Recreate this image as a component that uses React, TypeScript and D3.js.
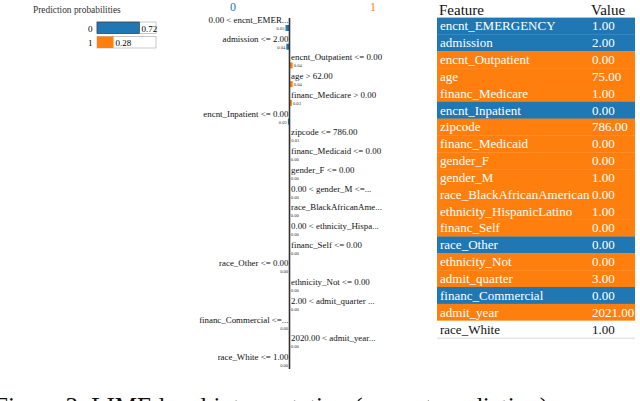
import * as d3 from "d3";
import React from "react";

// prediction probabilities
const classNames = ["0", "1"];
const probs = [0.72, 0.28];

// LIME explanation: label text, weight (negative = class 0, positive = class 1)
const featureLabels = [
  "0.00 < encnt_EMER...",
  "admission <= 2.00",
  "encnt_Outpatient <= 0.00",
  "age > 62.00",
  "financ_Medicare > 0.00",
  "encnt_Inpatient <= 0.00",
  "zipcode <= 786.00",
  "financ_Medicaid <= 0.00",
  "gender_F <= 0.00",
  "0.00 < gender_M <=...",
  "race_BlackAfricanAme...",
  "0.00 < ethnicity_Hispa...",
  "financ_Self <= 0.00",
  "race_Other <= 0.00",
  "ethnicity_Not <= 0.00",
  "2.00 < admit_quarter ...",
  "financ_Commercial <=...",
  "2020.00 < admit_year...",
  "race_White <= 1.00",
];
const featureWeights = [
  -0.05, -0.04, 0.04, 0.04, 0.03, -0.02, 0.01, 0.004, 0.004, 0.004,
  0.004, 0.004, 0.004, -0.004, 0.004, 0.004, -0.004, 0.004, -0.004,
];

// table on the right
const tableFeatures = [
  "encnt_EMERGENCY", "admission", "encnt_Outpatient", "age", "financ_Medicare",
  "encnt_Inpatient", "zipcode", "financ_Medicaid", "gender_F", "gender_M",
  "race_BlackAfricanAmerican", "ethnicity_HispanicLatino", "financ_Self",
  "race_Other", "ethnicity_Not", "admit_quarter", "financ_Commercial",
  "admit_year", "race_White",
];
const tableValues = [
  "1.00", "2.00", "0.00", "75.00", "1.00", "0.00", "786.00", "0.00", "0.00",
  "1.00", "0.00", "1.00", "0.00", "0.00", "0.00", "3.00", "0.00", "2021.00", "1.00",
];
const tableClass = [0, 0, 1, 1, 1, 0, 1, 1, 1, 1, 1, 1, 1, 0, 1, 1, 0, 1, -1];

const BLUE = "#1f77b4";
const ORANGE = "#ff7f0e";
const serif = "'Liberation Serif', 'DejaVu Serif', serif";

export default function App() {
  // prediction prob bars
  const probX = d3.scaleLinear().domain([0, 1]).range([0, 59]);
  const probY = d3.scaleBand<number>().domain([0, 1]).range([22, 48]).paddingInner(0.2);

  // explanation
  const axisX = 289.5;
  const rowY = d3.scaleLinear().domain([0, featureLabels.length - 1]).range([20, 357]);
  const wScale = d3.scaleLinear().domain([0, 0.05]).range([0, 4]);

  // table
  const tX0 = 437, tX1 = 635;
  const tRow = d3.scaleBand<number>()
    .domain(d3.range(tableFeatures.length))
    .range([17.6, 337.5]);

  return (
    <svg width={640} height={401}
      style={{ position: "absolute", left: 0, top: 0, background: "#fff" }}
      fontFamily={serif}>
      {/* prediction probabilities */}
      <text x={33} y={13} fontSize={9.4} fill="#333" fontWeight={500}>Prediction probabilities</text>
      {probs.map((p, i) => {
        const y = probY(i)!;
        const h = probY.bandwidth();
        return (
          <g key={i}>
            <text x={88} y={y + h - 2} fontSize={9}>{classNames[i]}</text>
            <rect x={97} y={y} width={59} height={h} fill="#fff" stroke="#bbb" strokeWidth={0.8} />
            <rect x={97} y={y} width={probX(p)} height={h}
              fill={i === 0 ? BLUE : ORANGE} stroke={i === 0 ? "#333" : "none"} strokeWidth={0.6} />
            <text x={97 + probX(p) + 2} y={y + h - 2} fontSize={9}>{p.toFixed(2)}</text>
          </g>
        );
      })}

      {/* class headers */}
      <text x={233} y={11} fontSize={12} fill={BLUE} textAnchor="middle">0</text>
      <text x={373} y={11} fontSize={12} fill={ORANGE} textAnchor="middle">1</text>

      {featureLabels.map((lab, i) => {
        const w = featureWeights[i];
        const cy = rowY(i);
        const bw = wScale(Math.abs(w));
        const left = w < 0;
        return (
          <g key={lab}>
            <text x={left ? axisX - 1 : axisX + 1.5} y={cy + 3} fontSize={8.9}
              textAnchor={left ? "end" : "start"} fill="#111">{lab}</text>
            <rect x={left ? axisX - bw : axisX} y={cy + 5} width={bw} height={6}
              fill={left ? BLUE : ORANGE} />
            <text x={left ? axisX - bw - 1 : axisX + bw + 1} y={cy + 10} fontSize={4.6}
              textAnchor={left ? "end" : "start"} fill="#333">{Math.abs(w).toFixed(2)}</text>
          </g>
        );
      })}
      <line x1={axisX} x2={axisX} y1={18} y2={369} stroke="#333" strokeWidth={1.6} />

      {/* table */}
      <text x={439} y={15} fontSize={15} fill="#111">Feature</text>
      <text x={591} y={15} fontSize={15} fill="#111">Value</text>
      {tableFeatures.map((f, i) => {
        const y = tRow(i)!;
        const h = tRow.bandwidth();
        const c = tableClass[i];
        const fill = c === 0 ? BLUE : c === 1 ? ORANGE : "#fff";
        const tc = c === -1 ? "#111" : "#fff";
        return (
          <g key={f}>
            <rect x={tX0} y={y} width={tX1 - tX0} height={h + 0.3} fill={fill} />
            <text x={440} y={y + h - 4} fontSize={13} fill={tc}>{f}</text>
            <text x={592} y={y + h - 4} fontSize={13} fill={tc}>{tableValues[i]}</text>
          </g>
        );
      })}
      <rect x={tX0} y={337.5} width={tX1 - tX0} height={1.5} fill="#e6e6e6" />

      {/* cropped caption, as in the source figure */}
      <text x={-6} y={415} fontSize={25} fill="#111">Figure 3: LIME local interpretation (correct prediction)</text>
    </svg>
  );
}
